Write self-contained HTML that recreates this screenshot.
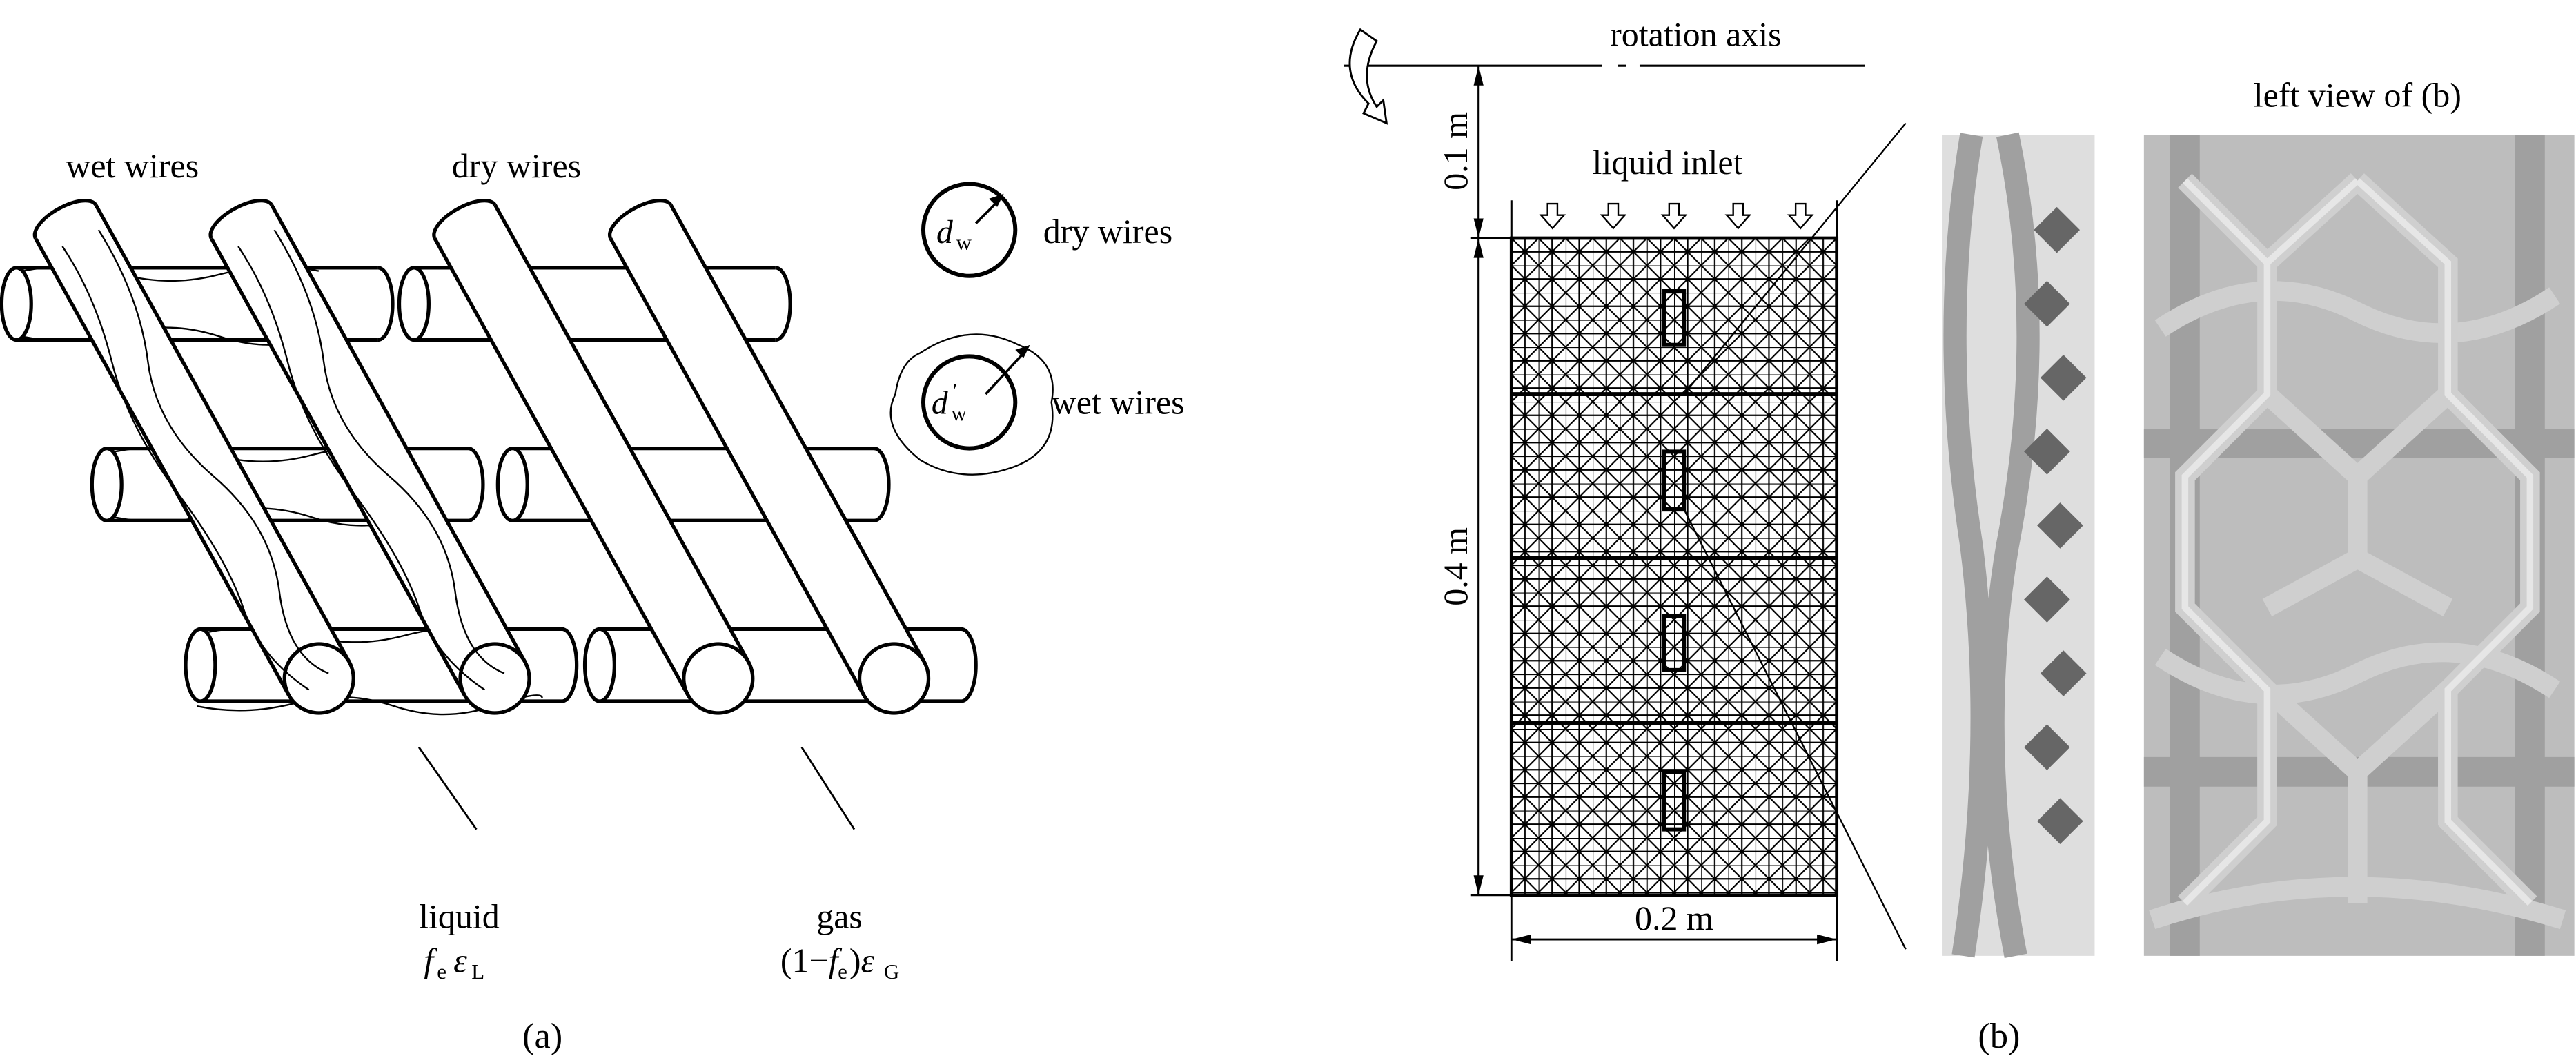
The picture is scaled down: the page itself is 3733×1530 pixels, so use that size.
<!DOCTYPE html>
<html><head><meta charset="utf-8"><style>
html,body{margin:0;padding:0;background:#fff;}
svg{display:block;}
text{font-family:"Liberation Serif",serif;fill:#000;}
</style></head><body>
<svg width="3733" height="1530" viewBox="0 0 1568 643" preserveAspectRatio="none" xmlns="http://www.w3.org/2000/svg">
<defs>
<pattern id="mesh" x="920" y="145" width="16.5" height="16.6" patternUnits="userSpaceOnUse">
<rect width="16.5" height="16.6" fill="#fff"/>
<path d="M0 0L16.5 16.6M16.5 0L0 16.6M0 0H16.5M0 0V16.6M8.25 0V16.6M0 8.3H16.5" stroke="#000" stroke-width="0.9" fill="none"/>
</pattern>
<g id="hcyl">
<rect x="0" y="-22" width="220" height="44" fill="#fff"/>
<path d="M0 -22 H220 M0 22 H220" stroke="#000" stroke-width="2.2"/>
<path d="M220 -22 A9 22 0 0 1 220 22" fill="#fff" stroke="#000" stroke-width="2.2"/>
<ellipse cx="0" cy="0" rx="9" ry="22" fill="#fff" stroke="#000" stroke-width="2.2"/>
</g>
<g id="dcyl">
<rect x="-21" y="0" width="42" height="318" fill="#fff"/>
<path d="M-21 0 V318 M21 0 V318" stroke="#000" stroke-width="2.2"/>
<path d="M-21 0 A21 9 0 0 1 21 0" fill="#fff" stroke="#000" stroke-width="2.2"/>
<ellipse cx="0" cy="318" rx="21" ry="21" fill="#fff" stroke="#000" stroke-width="2.2"/>
</g>
</defs>
<rect width="1568" height="643" fill="#fff"/>

<use href="#hcyl" x="10" y="185"/>
<use href="#hcyl" x="252" y="185"/>
<use href="#hcyl" x="65" y="295"/>
<use href="#hcyl" x="312" y="295"/>
<use href="#hcyl" x="122" y="405"/>
<use href="#hcyl" x="365" y="405"/>
<path d="M14 165 q30 -6 60 2 t60 0 t60 -2 M14 205 q30 6 60 -2 t60 2 t60 0 M70 275 q30 -6 60 2 t60 0 t60 -2 M70 315 q30 6 60 -2 t60 2 t60 0 M126 385 q30 -6 60 2 t60 0 t60 -2 M120 430 q30 6 60 -2 t60 2 t60 0 t30 -5" stroke="#000" stroke-width="1" fill="none"/>
<g transform="translate(40,135) rotate(-29)"><use href="#dcyl"/></g>
<g transform="translate(147,135) rotate(-29)"><use href="#dcyl"/></g>
<g transform="translate(283,135) rotate(-29)"><use href="#dcyl"/></g>
<g transform="translate(390,135) rotate(-29)"><use href="#dcyl"/></g>
<path d="M38 150 q20 30 30 70 t40 80 t40 70 t40 50 M60 140 q25 40 30 80 t40 70 t40 70 t30 50 M145 150 q20 30 30 70 t40 80 t40 70 t40 50 M167 140 q25 40 30 80 t40 70 t40 70 t30 50" stroke="#000" stroke-width="1" fill="none"/>

<text x="40" y="108" font-size="21">wet wires</text>
<text x="275" y="108" font-size="21">dry wires</text>
<circle cx="590" cy="140" r="28" fill="#fff" stroke="#000" stroke-width="2.5"/>
<text x="570" y="148" font-size="20" font-style="italic">d</text><text x="582" y="152" font-size="13">w</text>
<path d="M594 136 L608 122" stroke="#000" stroke-width="1.5"/><path d="M611 118 l-9 3 l5 5z" fill="#000"/>
<text x="635" y="148" font-size="21">dry wires</text>
<path d="M560 215 q30 -20 60 -5 q25 10 20 35 q5 30 -25 40 q-30 10 -55 -5 q-25 -20 -15 -40 q3 -20 15 -25z" fill="none" stroke="#000" stroke-width="1"/>
<circle cx="590" cy="245" r="28" fill="#fff" stroke="#000" stroke-width="2.5"/>
<text x="567" y="252" font-size="20" font-style="italic">d</text><text x="579" y="256" font-size="13">w</text><text x="580" y="242" font-size="12">′</text>
<path d="M600 240 L624 214" stroke="#000" stroke-width="1.5"/><path d="M627 210 l-9 3 l5 5z" fill="#000"/>
<text x="640" y="252" font-size="21">wet wires</text>

<path d="M255 455 L290 505 M488 455 L520 505" stroke="#000" stroke-width="1.2"/>
<text x="255" y="565" font-size="21">liquid</text>
<text x="258" y="592" font-size="21" font-style="italic">f</text><text x="266" y="596" font-size="13">e</text><text x="276" y="592" font-size="21" font-style="italic">ε</text><text x="287" y="596" font-size="13">L</text>
<text x="497" y="565" font-size="21">gas</text>
<text x="475" y="592" font-size="21">(1−<tspan font-style="italic">f</tspan></text><text x="510" y="596" font-size="13">e</text><text x="517" y="592" font-size="21">)<tspan font-style="italic">ε</tspan></text><text x="538" y="596" font-size="13">G</text>
<text x="318" y="638" font-size="22">(a)</text>

<path d="M818 40 H975 M985 40 H990 M998 40 H1135" stroke="#000" stroke-width="1.3"/>
<text x="980" y="28" font-size="21">rotation axis</text>
<path d="M828 18 q-15 25 5 45 l-3 6 l14 6 l-2 -14 l-4 4 q-12 -18 0 -40 z" fill="#fff" stroke="#000" stroke-width="1.2"/>
<path d="M900 40 V545" stroke="#000" stroke-width="1.3"/>
<path d="M895 145 H920 M895 545 H920" stroke="#000" stroke-width="1.2"/>
<path d="M900 40 l-3 12 h6z M900 145 l-3 -12 h6z M900 145 l-3 12 h6z M900 545 l-3 -12 h6z" fill="#000"/>
<text transform="translate(893,92) rotate(-90)" font-size="21" text-anchor="middle">0.1 m</text>
<text transform="translate(893,345) rotate(-90)" font-size="21" text-anchor="middle">0.4 m</text>
<text x="1015" y="106" font-size="21" text-anchor="middle">liquid inlet</text>
<path d="M920 122 V145 M1118 122 V145" stroke="#000" stroke-width="1.3"/>
<g fill="#fff" stroke="#000" stroke-width="1">
<path d="M942 124 h6 v7 h4 l-7 8 l-7 -8 h4z"/>
<path d="M979 124 h6 v7 h4 l-7 8 l-7 -8 h4z"/>
<path d="M1016 124 h6 v7 h4 l-7 8 l-7 -8 h4z"/>
<path d="M1055 124 h6 v7 h4 l-7 8 l-7 -8 h4z"/>
<path d="M1093 124 h6 v7 h4 l-7 8 l-7 -8 h4z"/>
</g>
<rect x="920" y="145" width="198" height="400" fill="url(#mesh)" stroke="#000" stroke-width="2"/>
<path d="M920 240 H1118 M920 340 H1118 M920 440 H1118" stroke="#000" stroke-width="2.5"/>
<g fill="none" stroke="#000" stroke-width="2.5">
<rect x="1013" y="177" width="12" height="33"/><rect x="1013" y="275" width="12" height="35"/>
<rect x="1013" y="375" width="12" height="33"/><rect x="1013" y="470" width="12" height="35"/>
</g>
<path d="M1025 240 L1160 75 M1025 310 L1160 578" stroke="#000" stroke-width="1"/>
<path d="M920 545 V585 M1118 545 V585 M920 572 H1118" stroke="#000" stroke-width="1.2"/>
<path d="M920 572 l12 -3 v6z M1118 572 l-12 -3 v6z" fill="#000"/>
<text x="1019" y="566" font-size="21" text-anchor="middle">0.2 m</text>

<rect x="1182" y="82" width="93" height="500" fill="#dedede"/>
<path d="M1200 82 q-20 120 0 250 q15 120 -5 250 M1222 82 q25 120 0 250 q-20 120 5 250" stroke="#a0a0a0" stroke-width="14" fill="none"/>
<g fill="#666">
<path d="M1238 140 l14 -14 l14 14 l-14 14z"/><path d="M1232 185 l14 -14 l14 14 l-14 14z"/><path d="M1242 230 l14 -14 l14 14 l-14 14z"/>
<path d="M1232 275 l14 -14 l14 14 l-14 14z"/><path d="M1240 320 l14 -14 l14 14 l-14 14z"/><path d="M1232 365 l14 -14 l14 14 l-14 14z"/>
<path d="M1242 410 l14 -14 l14 14 l-14 14z"/><path d="M1232 455 l14 -14 l14 14 l-14 14z"/><path d="M1240 500 l14 -14 l14 14 l-14 14z"/>
</g>
<text x="1435" y="65" font-size="21" text-anchor="middle">left view of (b)</text>
<rect x="1305" y="82" width="262" height="500" fill="#bdbdbd"/>
<g fill="none" stroke="#a0a0a0" stroke-width="18">
<path d="M1330 82 V582 M1540 82 V582"/>
<path d="M1305 270 H1567 M1305 470 H1567"/>
</g>
<g fill="none" stroke="#cfcfcf" stroke-width="12">
<path d="M1330 110 L1380 160 V240 L1330 290 V370 L1380 420 V500 L1330 550 M1435 110 L1380 160 M1435 110 L1490 160 V240 L1435 290 L1380 240 M1490 240 L1540 290 V370 L1490 420 V500 L1540 550 M1435 290 V340 L1380 370 M1435 340 L1490 370 M1380 420 L1435 470 L1490 420 M1435 470 V550"/>
<path d="M1315 200 q60 -40 120 -10 q60 30 120 -10 M1315 400 q60 40 120 10 q60 -30 120 10 M1310 560 q120 -40 250 0"/>
</g>
<g fill="none" stroke="#e6e6e6" stroke-width="4">
<path d="M1330 110 L1380 160 V240 L1330 290 V370 L1380 420 V500 L1330 550 M1435 110 L1490 160 V240 L1540 290 V370 L1490 420 V500 L1540 550 M1435 110 L1380 160"/>
</g>
<text x="1204" y="638" font-size="22">(b)</text>
</svg>
</body></html>
